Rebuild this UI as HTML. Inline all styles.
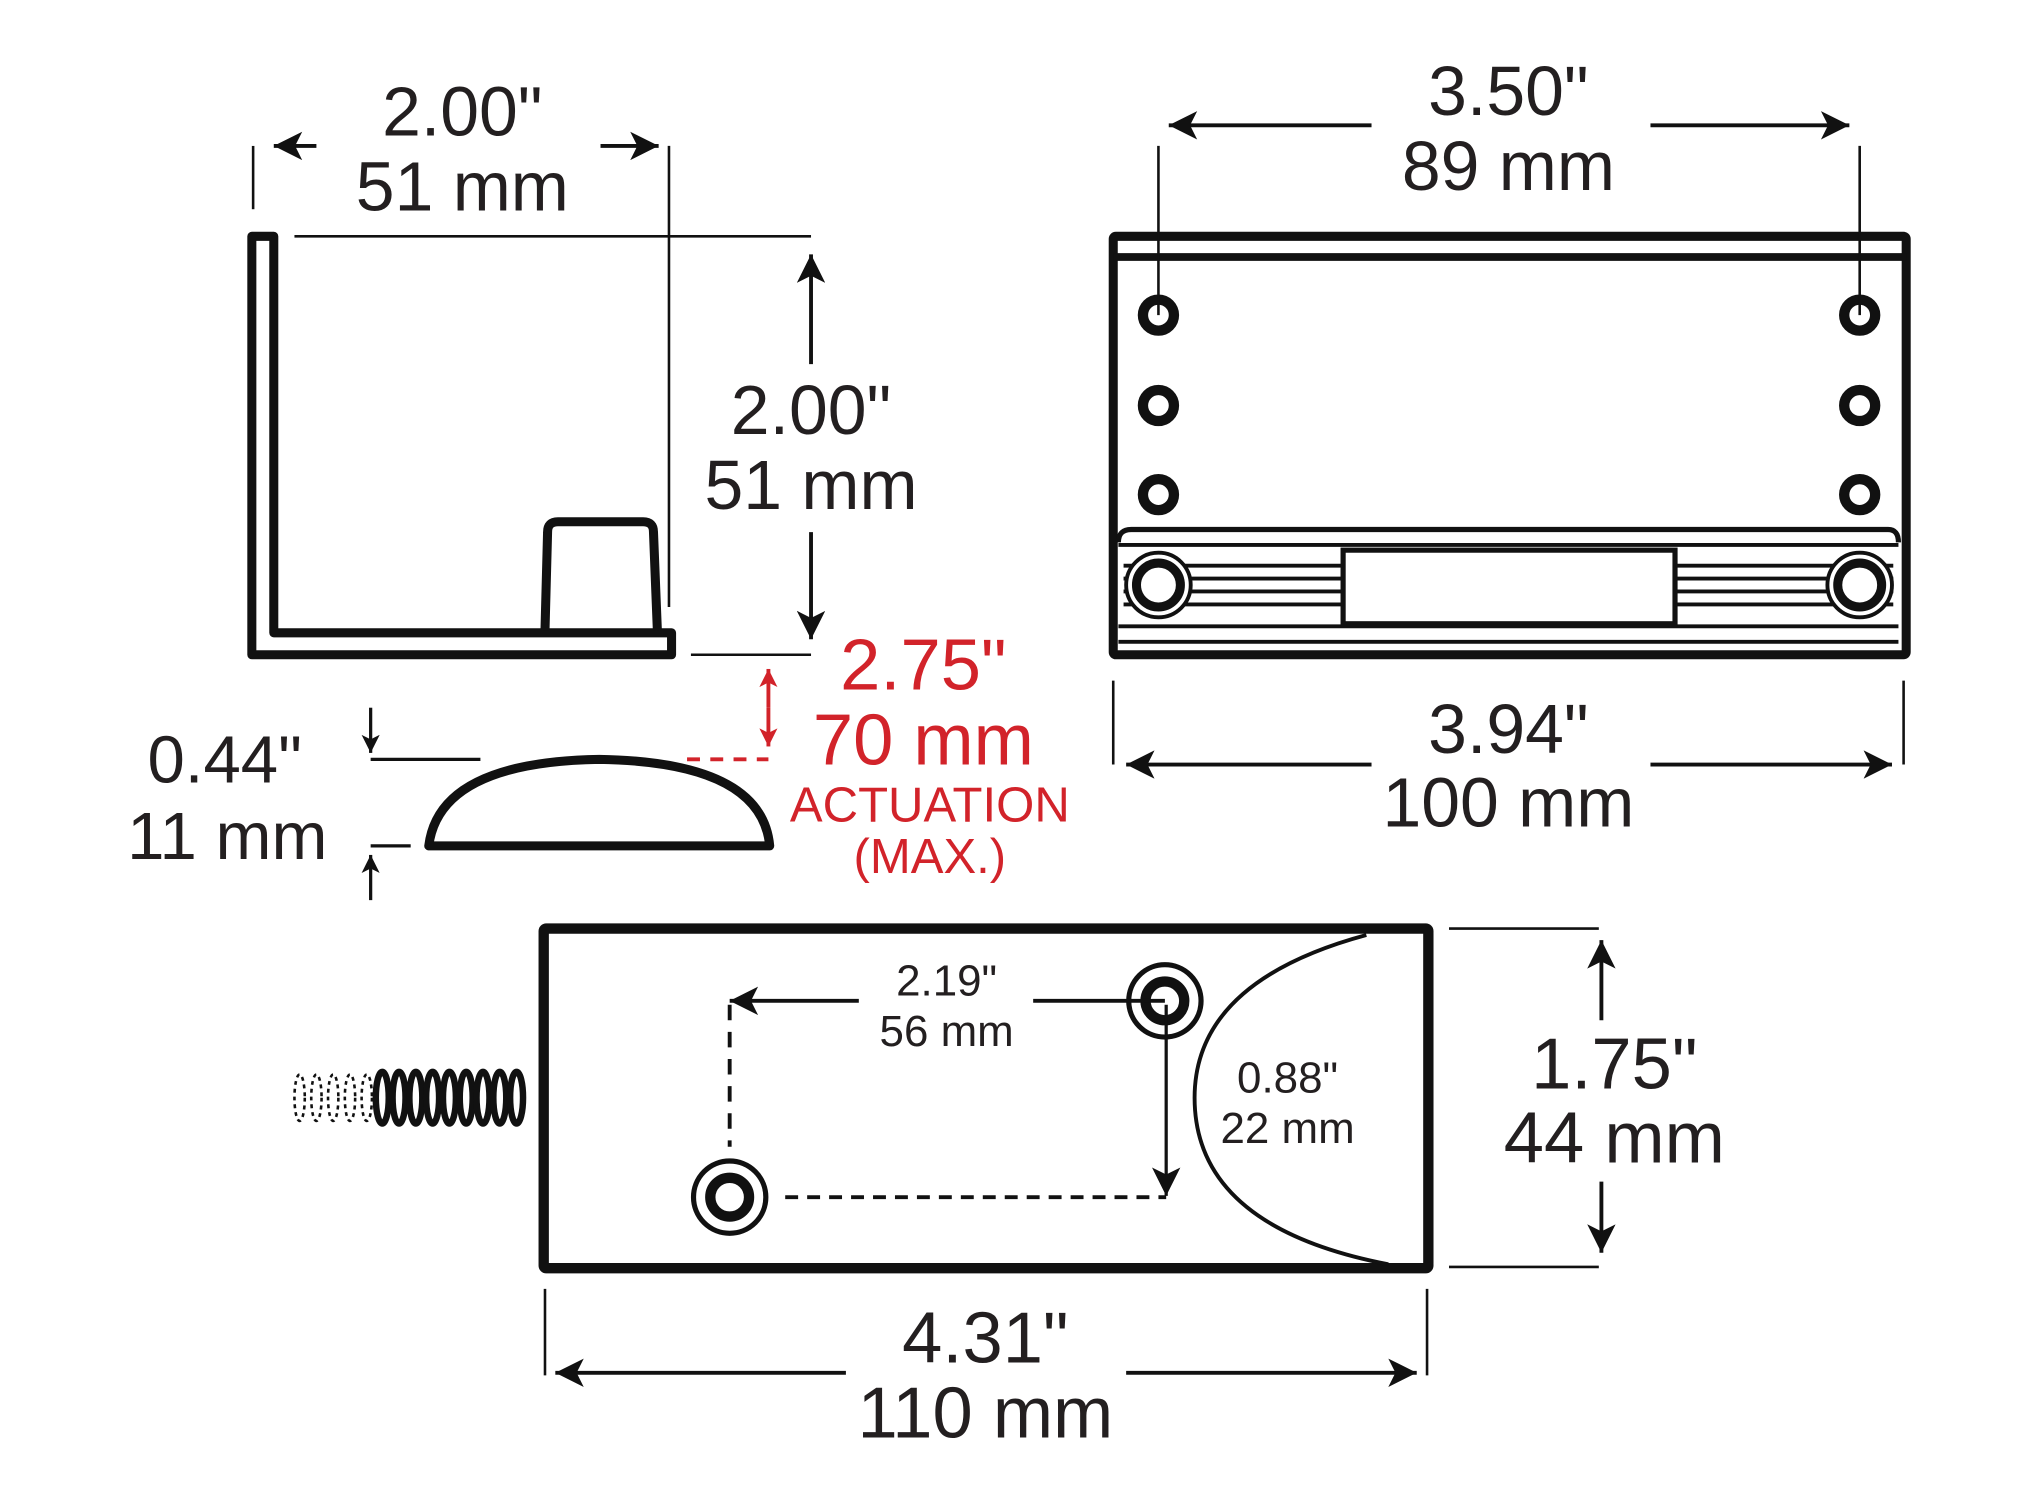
<!DOCTYPE html>
<html><head><meta charset="utf-8"><style>
html,body{margin:0;padding:0;background:#fff}
svg{display:block}
text{font-family:"Liberation Sans",Arial,sans-serif;fill:#231f20;text-anchor:middle}
.r{fill:#d2232a}
</style></head><body>
<svg width="2025" height="1500" viewBox="0 0 1568 1161.5" preserveAspectRatio="none" xmlns="http://www.w3.org/2000/svg">
<defs>
<marker id="a" viewBox="0 0 10 10" refX="10" refY="5" markerWidth="18" markerHeight="14" markerUnits="userSpaceOnUse" orient="auto"><path d="M0,0 L10,5 L0,10 L2.5,5 z" fill="#111"/></marker>
<marker id="b" viewBox="0 0 10 10" refX="10" refY="5" markerWidth="28" markerHeight="22" markerUnits="userSpaceOnUse" orient="auto"><path d="M0,0 L10,5 L0,10 L2.5,5 z" fill="#111"/></marker>
<marker id="rr" viewBox="0 0 10 10" refX="10" refY="5" markerWidth="16" markerHeight="14" markerUnits="userSpaceOnUse" orient="auto"><path d="M0,0 L10,5 L0,10 L2.5,5 z" fill="#d2232a"/></marker>
</defs>
<g stroke="#111" fill="none">
<path d="M195,183 H212 V490 H520 V507 H195 Z" stroke-width="7" stroke-linejoin="round"/>
<path d="M422,488 L424,412 Q424,404 432,404 H498 Q506,404 506,412 L509,488" stroke-width="7"/>
<g stroke-width="2">
<line x1="196" y1="113" x2="196" y2="162"/>
<line x1="518" y1="113" x2="518" y2="470"/>
<line x1="228" y1="183" x2="628" y2="183"/>
<line x1="535" y1="507" x2="628" y2="507"/>
<line x1="245" y1="113" x2="212" y2="113" stroke-width="3" marker-end="url(#b)"/>
<line x1="465" y1="113" x2="510" y2="113" stroke-width="3" marker-end="url(#b)"/>
<line x1="628" y1="282" x2="628" y2="197" stroke-width="3" marker-end="url(#b)"/>
<line x1="628" y1="412" x2="628" y2="495" stroke-width="3" marker-end="url(#b)"/>
</g>
<path d="M332,655 H596 Q590,590 464,588 Q340,590 332,655 Z" stroke-width="7" stroke-linejoin="round"/>
<g stroke-width="2.5">
<line x1="287" y1="588" x2="372" y2="588"/>
<line x1="287" y1="655" x2="318" y2="655"/>
<line x1="287" y1="548" x2="287" y2="583" marker-end="url(#a)"/>
<line x1="287" y1="697" x2="287" y2="662" marker-end="url(#a)"/>
</g>
<line x1="532" y1="588" x2="595" y2="588" stroke="#d2232a" stroke-width="3" stroke-dasharray="10,8"/>
<line x1="595" y1="548" x2="595" y2="518" stroke="#d2232a" stroke-width="3" marker-end="url(#rr)"/>
<line x1="595" y1="548" x2="595" y2="578" stroke="#d2232a" stroke-width="3" marker-end="url(#rr)"/>

<rect x="862" y="183" width="614" height="324" stroke-width="7" rx="2"/>
<line x1="862" y1="199" x2="1476" y2="199" stroke-width="6"/>
<path d="M866,420 Q866,410 876,410 H1462 Q1470,410 1470,420" stroke-width="4"/>
<line x1="866" y1="422" x2="1470" y2="422" stroke-width="3"/>
<line x1="866" y1="485" x2="1470" y2="485" stroke-width="3"/>
<line x1="866" y1="497" x2="1470" y2="497" stroke-width="3"/>
<rect x="1040" y="426" width="257" height="57" stroke-width="4"/>
<g stroke-width="3">
<line x1="870" y1="438" x2="1040" y2="438"/><line x1="870" y1="448" x2="1040" y2="448"/>
<line x1="870" y1="458" x2="1040" y2="458"/><line x1="870" y1="468" x2="1040" y2="468"/>
<line x1="1297" y1="438" x2="1466" y2="438"/><line x1="1297" y1="448" x2="1466" y2="448"/>
<line x1="1297" y1="458" x2="1466" y2="458"/><line x1="1297" y1="468" x2="1466" y2="468"/>
</g>
<g fill="#fff">
<circle cx="897" cy="453" r="25" stroke-width="3"/><circle cx="897" cy="453" r="17" stroke-width="7"/>
<circle cx="1440" cy="453" r="25" stroke-width="3"/><circle cx="1440" cy="453" r="17" stroke-width="7"/>
</g>
<g fill="#fff" stroke-width="8">
<circle cx="897" cy="244" r="12"/><circle cx="897" cy="314" r="12"/><circle cx="897" cy="383" r="12"/>
<circle cx="1440" cy="244" r="12"/><circle cx="1440" cy="314" r="12"/><circle cx="1440" cy="383" r="12"/>
</g>
<g stroke-width="2">
<line x1="897" y1="113" x2="897" y2="244"/>
<line x1="1440" y1="113" x2="1440" y2="244"/>
<line x1="862" y1="527" x2="862" y2="592"/>
<line x1="1474" y1="527" x2="1474" y2="592"/>
<line x1="1062" y1="97" x2="905" y2="97" stroke-width="3" marker-end="url(#b)"/>
<line x1="1278" y1="97" x2="1432" y2="97" stroke-width="3" marker-end="url(#b)"/>
<line x1="1062" y1="592" x2="872" y2="592" stroke-width="3" marker-end="url(#b)"/>
<line x1="1278" y1="592" x2="1465" y2="592" stroke-width="3" marker-end="url(#b)"/>
</g>

<rect x="421" y="719" width="685" height="263" stroke-width="8" rx="2"/>
<path d="M1058,724 Q925,760 925,850 Q925,950 1075,979" stroke-width="3"/>
<g stroke-width="5">
<ellipse cx="296" cy="850" rx="5" ry="20"/><ellipse cx="309" cy="850" rx="5" ry="20"/>
<ellipse cx="322" cy="850" rx="5" ry="20"/><ellipse cx="335" cy="850" rx="5" ry="20"/>
<ellipse cx="348" cy="850" rx="5" ry="20"/><ellipse cx="361" cy="850" rx="5" ry="20"/>
<ellipse cx="374" cy="850" rx="5" ry="20"/><ellipse cx="387" cy="850" rx="5" ry="20"/>
<ellipse cx="400" cy="850" rx="5" ry="20"/>
</g>
<g stroke-width="2" stroke-dasharray="3,3">
<ellipse cx="232" cy="850" rx="4" ry="18"/><ellipse cx="245" cy="850" rx="4" ry="18"/>
<ellipse cx="258" cy="850" rx="4" ry="18"/><ellipse cx="271" cy="850" rx="4" ry="18"/><ellipse cx="284" cy="850" rx="4" ry="18"/>
</g>
<g fill="#fff">
<circle cx="902" cy="775" r="28" stroke-width="4"/><circle cx="902" cy="775" r="15" stroke-width="8"/>
<circle cx="565" cy="927" r="28" stroke-width="4"/><circle cx="565" cy="927" r="15" stroke-width="8"/>
</g>
<line x1="665" y1="775" x2="565" y2="775" stroke-width="3" marker-end="url(#b)"/>
<line x1="800" y1="775" x2="902" y2="775" stroke-width="3"/>
<line x1="565" y1="778" x2="565" y2="888" stroke-width="3" stroke-dasharray="12,9"/>
<line x1="608" y1="927" x2="903" y2="927" stroke-width="3" stroke-dasharray="10,7"/>
<line x1="903" y1="778" x2="903" y2="926" stroke-width="2.5" marker-end="url(#b)"/>
<g stroke-width="2">
<line x1="1122" y1="719" x2="1238" y2="719"/>
<line x1="1122" y1="981" x2="1238" y2="981"/>
<line x1="422" y1="998" x2="422" y2="1065"/>
<line x1="1105" y1="998" x2="1105" y2="1065"/>
<line x1="1240" y1="790" x2="1240" y2="728" stroke-width="3" marker-end="url(#b)"/>
<line x1="1240" y1="915" x2="1240" y2="970" stroke-width="3" marker-end="url(#b)"/>
<line x1="655" y1="1063" x2="430" y2="1063" stroke-width="3" marker-end="url(#b)"/>
<line x1="872" y1="1063" x2="1097" y2="1063" stroke-width="3" marker-end="url(#b)"/>
</g>
</g>

<text x="358" y="105" font-size="54">2.00"</text>
<text x="358" y="163" font-size="54">51 mm</text>
<text x="628" y="336" font-size="54">2.00"</text>
<text x="628" y="394" font-size="54">51 mm</text>
<text x="174" y="606" font-size="52">0.44"</text>
<text x="176" y="665" font-size="52">11 mm</text>
<text class="r" x="715" y="534" font-size="56">2.75"</text>
<text class="r" x="715" y="592" font-size="56">70 mm</text>
<text class="r" x="720" y="636" font-size="38">ACTUATION</text>
<text class="r" x="720" y="676" font-size="38">(MAX.)</text>
<text x="1168" y="89" font-size="54">3.50"</text>
<text x="1168" y="147" font-size="54">89 mm</text>
<text x="1168" y="583" font-size="54">3.94"</text>
<text x="1168" y="640" font-size="54">100 mm</text>
<text x="733" y="771" font-size="34">2.19"</text>
<text x="733" y="810" font-size="34">56 mm</text>
<text x="997" y="846" font-size="34">0.88"</text>
<text x="997" y="885" font-size="34">22 mm</text>
<text x="1250" y="843" font-size="56">1.75"</text>
<text x="1250" y="900" font-size="56">44 mm</text>
<text x="763" y="1055" font-size="56">4.31"</text>
<text x="763" y="1113" font-size="56">110 mm</text>
</svg>
</body></html>
